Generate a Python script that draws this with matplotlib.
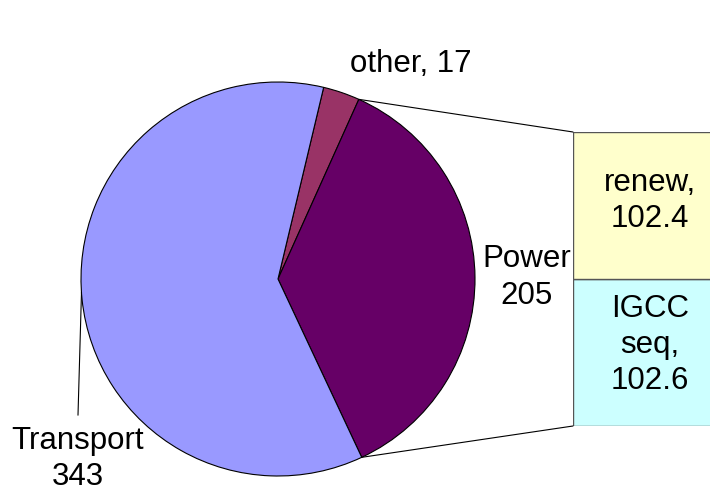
import matplotlib
matplotlib.use('Agg')
import matplotlib.pyplot as plt
import numpy as np
from matplotlib.patches import ConnectionPatch

plt.rcParams['font.family'] = ['Liberation Sans', 'DejaVu Sans']

# 数据
pie_labels = ['other', 'Power', 'Transport']
pie_values = [17, 205, 343]
pie_colors = ['#993366', '#660066', '#9999FF']

bar_labels = ['IGCC\nseq,', 'renew,']
bar_values = [102.6, 102.4]
bar_colors = ['#CCFFFF', '#FFFFCC']

W, H = 710, 491
fig = plt.figure(figsize=(W / 100, H / 100), dpi=100)
ax = fig.add_axes([0, 0, 1, 1])

# 饼图（像素坐标，y 轴向上）
cx, cy, r = 278, H - 279, 197
start = 76.6
total = sum(pie_values)
ax.pie(pie_values, colors=pie_colors, startangle=start, counterclock=False,
       center=(cx, cy), radius=r,
       wedgeprops=dict(edgecolor='black', linewidth=0.8))
ax.set_xlim(0, W)
ax.set_ylim(0, H)
ax.set_aspect('auto')
ax.axis('off')

# 右侧堆积柱
ax2 = fig.add_axes([573 / W, (H - 426) / H, 154 / W, 294 / H])
bottom = 0
for v, c in zip(bar_values, bar_colors):
    ax2.bar([0], [v], bottom=bottom, width=1, align='edge', color=c,
            edgecolor='#555555', linewidth=1)
    bottom += v
ax2.set_xlim(0, 1)
ax2.set_ylim(0, sum(bar_values))
ax2.axis('off')

# 连接线
a1 = np.radians(start - pie_values[0] / total * 360)
a2 = np.radians(start - (pie_values[0] + pie_values[1]) / total * 360)
for a, yb in [(a1, sum(bar_values)), (a2, 0)]:
    con = ConnectionPatch(xyA=(cx + r * np.cos(a), cy + r * np.sin(a)), coordsA=ax.transData,
                          xyB=(0, yb), coordsB=ax2.transData,
                          color='black', linewidth=0.8)
    fig.add_artist(con)

fs = 22.5
ls = 1.27
# 标签
ax.text(411, H - 72, f'{pie_labels[0]}, {pie_values[0]}', fontsize=fs,
        ha='center', va='baseline')
ax.text(527, H - 277.5, f'{pie_labels[1]}\n{pie_values[1]}', fontsize=fs,
        ha='center', va='center', linespacing=ls)
ax.text(78, H - 459, f'{pie_labels[2]}\n{pie_values[2]}', fontsize=fs,
        ha='center', va='center', linespacing=ls)

# Transport 引线
at = np.radians(184)
ax.plot([cx + r * np.cos(at), 78], [cy + r * np.sin(at), H - 415],
        color='black', linewidth=0.8)

# 柱内标签
ax2.text(0.5, bar_values[0] / 2 + 5, f'{bar_labels[0]}\n{bar_values[0]}', fontsize=fs,
         ha='center', va='center', linespacing=ls)
ax2.text(0.5, bar_values[0] + bar_values[1] / 2 + 3, f'{bar_labels[1]}\n{bar_values[1]}',
         fontsize=fs, ha='center', va='center', linespacing=ls)

fig.savefig('out.png', dpi=100)
